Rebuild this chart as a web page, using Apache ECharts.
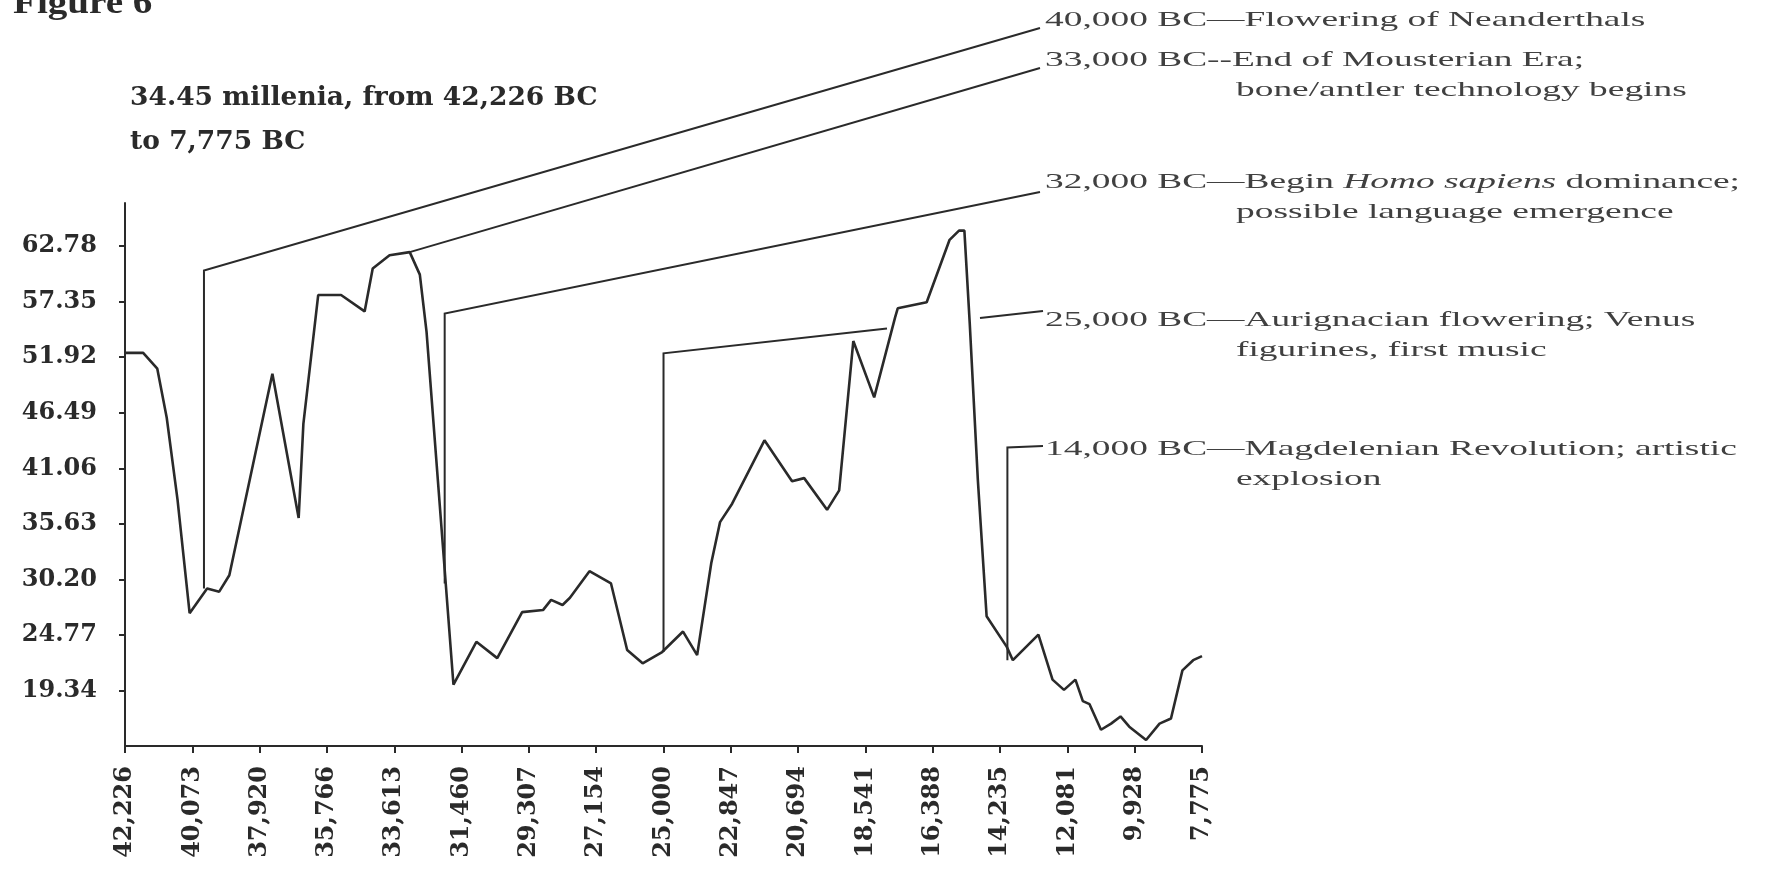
<!DOCTYPE html>
<html><head><meta charset="utf-8">
<script src="https://cdn.jsdelivr.net/npm/echarts@6/dist/echarts.min.js"></script>
<style>html,body{margin:0;padding:0;background:#fff}#c{width:1765px;height:873px}</style>
</head><body><div id="c"></div>
<script>
// ---- data (years BC, index values) ----
const years = [42226, 41645, 41193, 40891, 40546, 40159, 39599, 39212, 38889, 37511,
  36671, 36520, 36046, 35314, 34561, 34302, 33764, 33118, 32795, 32580,
  31719, 30986, 30319, 29522, 28855, 28596, 28230, 27993, 27369, 26680,
  26163, 25668, 25044, 24376, 23924, 23472, 23192, 22805, 21771, 20888,
  20501, 19768, 19381, 18929, 18261, 17594, 17508, 16582, 15849, 15548,
  15376, 15204, 14945, 14665, 14019, 13826, 13008, 12556, 12190, 11824,
  11587, 11372, 11006, 10683, 10382, 10102, 9564, 9133, 8767, 8401, 8057, 7775];
const values = [52.35, 52.35, 50.8, 46.0, 38.0, 26.9, 29.3, 29.0, 30.6, 50.3,
  36.2, 45.4, 58.0, 58.0, 56.4, 60.6, 61.9, 62.2, 60.0, 54.4,
  19.9, 24.1, 22.5, 27.0, 27.2, 28.2, 27.7, 28.4, 31.0, 29.8,
  23.3, 22.0, 23.1, 25.1, 22.8, 31.8, 35.8, 37.6, 43.8, 39.8,
  40.1, 37.0, 38.9, 53.5, 48.0, 55.8, 56.7, 57.3, 63.4, 64.3,
  64.3, 55.2, 39.9, 26.6, 23.6, 22.3, 24.8, 20.4, 19.4, 20.4,
  18.3, 18.0, 15.5, 16.1, 16.8, 15.8, 14.5, 16.1, 16.6, 21.3, 22.3, 22.7];
const xTickYears = [42226, 40073, 37920, 35766, 33613, 31460, 29307, 27154, 25000,
  22847, 20694, 18541, 16388, 14235, 12081, 9928, 7775];
const yTickValues = [19.34, 24.77, 30.20, 35.63, 41.06, 46.49, 51.92, 57.35, 62.78];
const figureLabel = 'Figure 6';
const titleLines = ['34.45 millenia, from 42,226 BC', 'to 7,775 BC'];
// annotations: year of the marker, value where it leaves the curve, value of its knee
const annYears = [39700, 33118, 32000, 25000, 14000];
const annBaseValues = [29.3, 62.2, 29.8, 23.1, 22.3];
const annKneeValues = [60.4, 62.2, 56.2, 52.3, 43.1];
const annFirstLines = ['40,000 BC\u2014Flowering of Neanderthals',
  '33,000 BC--End of Mousterian Era;',
  '32,000 BC\u2014Begin {i|Homo sapiens} dominance;',
  '25,000 BC\u2014Aurignacian flowering; Venus',
  '14,000 BC\u2014Magdelenian Revolution; artistic'];
const annSecondLines = ['', 'bone/antler technology begins', 'possible language emergence',
  'figurines, first music', 'explosion'];

// ---- layout / style ----
const INK = '#2a2a2a';
const TXT = '#404040';
const axisFont = {fontFamily: 'DejaVu Serif', fontWeight: 'bold', fontSize: 24, color: INK};
const chart = echarts.init(document.getElementById('c'));
chart.setOption({
  animation: false,
  backgroundColor: '#ffffff',
  grid: {left: 125, right: 563, top: 203, bottom: 127},
  xAxis: {
    type: 'value', inverse: true, min: 7775, max: 42226,
    axisLine: {show: true, lineStyle: {color: INK, width: 2}},
    axisTick: {show: true, customValues: xTickYears, length: 7, lineStyle: {color: INK, width: 2}},
    axisLabel: Object.assign({customValues: xTickYears, rotate: 90, margin: 20,
      formatter: v => Number(v).toLocaleString('en-US')}, axisFont),
    splitLine: {show: false}
  },
  yAxis: {
    type: 'value', min: 13.91, max: 67,
    axisLine: {show: true, lineStyle: {color: INK, width: 2}},
    axisTick: {show: true, customValues: yTickValues, length: 6, lineStyle: {color: INK, width: 2}},
    axisLabel: Object.assign({customValues: yTickValues, margin: 28,
      formatter: v => Number(v).toFixed(2)}, axisFont),
    splitLine: {show: false}
  },
  series: [{
    type: 'line', silent: true, showSymbol: false, symbol: 'none',
    data: years.map((y, i) => [y, values[i]]),
    lineStyle: {color: INK, width: 2.6}
  }]
});

// ---- annotations ----
const px = (y, v) => chart.convertToPixel({xAxisIndex: 0, yAxisIndex: 0}, [y, v]);
const textX = 1045, descX = 1236, SX = 1.7;
const lineY = [20, 60, 182, 320, 449];
const ends = [[1040, 28], [1040, 68], [1040, 192], [1043, 311], [1043, 446]];
const g = [];
const lineStyle = {stroke: INK, lineWidth: 2, fill: null};
for (let i = 0; i < annYears.length; i++) {
  const base = px(annYears[i], annBaseValues[i]);
  const knee = px(annYears[i], annKneeValues[i]);
  const end = ends[i];
  if (i === 3) {
    const yAt = x => knee[1] + (x - knee[0]) * (end[1] - knee[1]) / (end[0] - knee[0]);
    g.push({type: 'polyline', shape: {points: [base, knee, [887, yAt(887)]]}, style: lineStyle});
    g.push({type: 'polyline', shape: {points: [[980, yAt(980)], end]}, style: lineStyle});
  } else {
    g.push({type: 'polyline', shape: {points: [base, knee, end]}, style: lineStyle});
  }
  g.push({type: 'text', x: textX, y: lineY[i], scaleX: SX, style: {
    text: annFirstLines[i], fontFamily: 'Liberation Serif', fontSize: 22, fill: TXT,
    verticalAlign: 'middle', align: 'left',
    rich: {i: {fontStyle: 'italic', fontFamily: 'Liberation Serif', fontSize: 22, fill: TXT}}}});
  if (annSecondLines[i]) {
    g.push({type: 'text', x: descX, y: lineY[i] + 30, scaleX: SX, style: {
      text: annSecondLines[i], fontFamily: 'Liberation Serif', fontSize: 22, fill: TXT,
      verticalAlign: 'middle', align: 'left'}});
  }
}
g.push({type: 'text', x: 130, y: 98, scaleX: 1.02, style: {text: titleLines[0], fontFamily: 'DejaVu Serif',
  fontWeight: 'bold', fontSize: 26, fill: INK, verticalAlign: 'middle'}});
g.push({type: 'text', x: 130, y: 142, scaleX: 1.02, style: {text: titleLines[1], fontFamily: 'DejaVu Serif',
  fontWeight: 'bold', fontSize: 26, fill: INK, verticalAlign: 'middle'}});
g.push({type: 'text', x: 13, y: 21, scaleX: 1.15, style: {text: figureLabel, fontFamily: 'Liberation Serif',
  fontWeight: 'bold', fontSize: 34, fill: INK, verticalAlign: 'bottom'}});
chart.setOption({graphic: g});
</script></body></html>
